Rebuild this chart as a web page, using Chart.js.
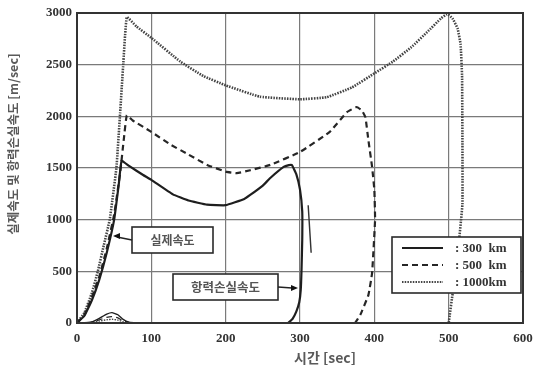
<!DOCTYPE html>
<html>
<head>
<meta charset="utf-8">
<script src="https://cdn.jsdelivr.net/npm/chart.js@4/dist/chart.umd.min.js"></script>
<style>
  html, body { margin: 0; padding: 0; background: #fff; }
  #wrap { width: 541px; height: 369px; }
</style>
</head>
<body>
<div id="wrap"><canvas id="c" width="541" height="369"></canvas></div>
<script>
// Axis ticks
const xTicks = [0, 100, 200, 300, 400, 500, 600];
const yTicks = [0, 500, 1000, 1500, 2000, 2500, 3000];

// Legend entries (altitude)
const seriesNames = ['300  km', '500  km', '1000km'];

// Actual velocity, 300 km
const t300 = [0, 10, 20, 30, 40, 50, 56, 60, 70, 89, 100, 129, 150, 175, 200, 225, 233, 250, 260, 278, 285, 289, 295, 300, 303, 303, 302, 301, 299, 295, 290, 284];
const v300 = [0, 70, 220, 420, 680, 1000, 1330, 1570, 1520, 1432, 1385, 1245, 1185, 1145, 1140, 1200, 1239, 1330, 1403, 1510, 1528, 1530, 1440, 1290, 1080, 800, 500, 320, 200, 110, 40, 0];

// Actual velocity, 500 km
const t500 = [0, 10, 20, 30, 40, 50, 58, 63, 67, 75, 100, 125, 150, 175, 200, 215, 233, 260, 300, 340, 363, 376, 383, 388, 392, 397, 400, 401, 397, 392, 381, 374];
const v500 = [0, 80, 250, 450, 720, 1050, 1450, 1780, 2010, 1960, 1850, 1730, 1630, 1530, 1465, 1450, 1478, 1530, 1655, 1850, 2040, 2090, 2060, 1990, 1770, 1510, 1290, 1000, 485, 270, 77, 0];

// Actual velocity, 1000 km
const t1000 = [0, 10, 20, 28, 36, 44, 53, 58, 62, 67, 80, 100, 139, 170, 200, 246, 300, 336, 370, 401, 425, 450, 471, 490, 498, 505, 512, 516, 518, 518.5, 518.5, 514, 510, 506, 500];
const v1000 = [0, 100, 290, 500, 750, 1000, 1500, 2030, 2480, 2960, 2870, 2760, 2530, 2390, 2300, 2190, 2165, 2185, 2280, 2420, 2530, 2670, 2815, 2950, 2990, 2950, 2850, 2700, 2400, 1800, 1150, 800, 500, 320, 0];

// Drag loss velocity (shared time base)
const tDrag = [0, 10, 20, 30, 40, 47, 55, 62, 70, 80, 100];
const d300  = [0, 2, 10, 45, 85, 100, 80, 35, 8, 2, 0];
const d500  = [0, 2, 8, 30, 55, 62, 50, 22, 5, 1, 0];
const d1000 = [0, 1, 5, 18, 32, 36, 28, 12, 3, 1, 0];

// Small slanted marker across the 300 km descent
const crossMark = [[311, 1140], [315, 680]];

const pts = (ts, vs) => ts.map((t, i) => ({ x: t, y: vs[i] }));

const styles = [
  { borderColor: '#1e1e1e', borderWidth: 2.2, borderDash: [] },
  { borderColor: '#262626', borderWidth: 2.2, borderDash: [6, 4] },
  { borderColor: '#444', borderWidth: 2.6, borderDash: [1.5, 1.2] }
];

const mk = (data, s, w) => ({
  data,
  borderColor: s.borderColor,
  borderWidth: w || s.borderWidth,
  borderDash: s.borderDash,
  pointRadius: 0,
  tension: 0.1,
  fill: false
});

const datasets = [
  mk(pts(t300, v300), styles[0]),
  mk(pts(t500, v500), styles[1]),
  mk(pts(t1000, v1000), styles[2]),
  mk(pts(tDrag, d300), styles[0], 1.4),
  mk(pts(tDrag, d500), styles[1], 1.2),
  mk(pts(tDrag, d1000), styles[2], 1.4)
];

const tickFont = { family: "'Liberation Serif', serif", size: 13, weight: 'bold' };

function arrowHead(ctx, x, y, dir) {
  ctx.beginPath();
  ctx.moveTo(x, y);
  ctx.lineTo(x - dir * 7, y - 3);
  ctx.lineTo(x - dir * 7, y + 3);
  ctx.closePath();
  ctx.fill();
}

const decor = {
  id: 'decor',
  afterDatasetsDraw(chart) {
    const { ctx, scales: { x, y } } = chart;
    ctx.save();

    // slanted marker
    ctx.strokeStyle = '#333';
    ctx.lineWidth = 1.4;
    ctx.beginPath();
    ctx.moveTo(x.getPixelForValue(crossMark[0][0]), y.getPixelForValue(crossMark[0][1]));
    ctx.lineTo(x.getPixelForValue(crossMark[1][0]), y.getPixelForValue(crossMark[1][1]));
    ctx.stroke();

    // labelled call-out boxes
    const korFont = "'Noto Sans CJK KR', sans-serif";
    ctx.fillStyle = '#fff';
    ctx.strokeStyle = '#2a2a2a';
    ctx.lineWidth = 1.6;

    // 실제속도
    ctx.fillRect(132, 227, 81, 26);
    ctx.strokeRect(132, 227, 81, 26);
    ctx.fillStyle = '#555';
    ctx.font = "bold 12px " + korFont;
    ctx.textAlign = 'center';
    ctx.textBaseline = 'middle';
    ctx.fillText('실제속도', 172.5, 240.5);
    ctx.strokeStyle = '#222';
    ctx.beginPath();
    ctx.moveTo(132, 240);
    ctx.lineTo(117, 237);
    ctx.stroke();
    ctx.fillStyle = '#111';
    arrowHead(ctx, 113, 236, -1);

    // 항력손실속도
    ctx.fillStyle = '#fff';
    ctx.strokeStyle = '#2a2a2a';
    ctx.fillRect(173, 274, 105, 26);
    ctx.strokeRect(173, 274, 105, 26);
    ctx.fillStyle = '#555';
    ctx.font = "bold 12.5px " + korFont;
    ctx.fillText('항력손실속도', 225.5, 287.5);
    ctx.strokeStyle = '#222';
    ctx.beginPath();
    ctx.moveTo(278, 287);
    ctx.lineTo(292, 288);
    ctx.stroke();
    ctx.fillStyle = '#111';
    arrowHead(ctx, 298, 288, 1);

    // legend
    ctx.fillStyle = '#fff';
    ctx.strokeStyle = '#2a2a2a';
    ctx.lineWidth = 1.6;
    ctx.fillRect(392, 237, 129, 56);
    ctx.strokeRect(392, 237, 129, 56);
    const rows = [248, 265, 282];
    ctx.textAlign = 'left';
    ctx.font = "bold 13px 'Liberation Serif', serif";
    seriesNames.forEach((name, i) => {
      const s = styles[i];
      ctx.strokeStyle = s.borderColor;
      ctx.lineWidth = s.borderWidth * 0.8;
      ctx.setLineDash(s.borderDash);
      ctx.beginPath();
      ctx.moveTo(402, rows[i]);
      ctx.lineTo(443, rows[i]);
      ctx.stroke();
      ctx.setLineDash([]);
      ctx.fillStyle = '#333';
      ctx.fillText(': ' + name, 455, rows[i] + 1);
    });
    ctx.restore();
  },
  afterDraw(chart) {
    const { ctx, chartArea: a } = chart;
    ctx.save();
    ctx.strokeStyle = '#333';
    ctx.lineWidth = 2;
    ctx.strokeRect(a.left, a.top, a.right - a.left, a.bottom - a.top);

    // axis titles
    ctx.fillStyle = '#5a5a5a';
    ctx.textAlign = 'center';
    ctx.textBaseline = 'middle';
    ctx.font = "bold 14px 'Noto Sans CJK KR', sans-serif";
    ctx.fillText('시간 [sec]', 325, 358);
    ctx.translate(13, 144);
    ctx.rotate(-Math.PI / 2);
    ctx.font = "bold 12.5px 'Noto Sans CJK KR', sans-serif";
    ctx.fillText('실제속도 및 항력손실속도 [m/sec]', 0, 0);
    ctx.restore();
  }
};

new Chart(document.getElementById('c'), {
  type: 'line',
  data: { datasets },
  options: {
    responsive: false,
    animation: false,
    devicePixelRatio: 1,
    layout: { padding: { top: 13, right: 18, left: 0, bottom: 0 } },
    plugins: { legend: { display: false }, tooltip: { enabled: false } },
    scales: {
      x: {
        type: 'linear',
        min: xTicks[0],
        max: xTicks[xTicks.length - 1],
        afterBuildTicks: s => { s.ticks = xTicks.map(v => ({ value: v })); },
        afterFit: s => { s.height = 46; },
        ticks: { font: tickFont, color: '#333', padding: 8, maxRotation: 0, callback: v => String(v) },
        grid: { color: '#7a7a7a', lineWidth: 1.2, drawTicks: false },
        border: { display: false }
      },
      y: {
        type: 'linear',
        min: yTicks[0],
        max: yTicks[yTicks.length - 1],
        afterBuildTicks: s => { s.ticks = yTicks.map(v => ({ value: v })); },
        afterFit: s => { s.width = 77; },
        ticks: { font: tickFont, color: '#333', padding: 5, callback: v => String(v) },
        grid: { color: '#7a7a7a', lineWidth: 1.2, drawTicks: false },
        border: { display: false }
      }
    }
  },
  plugins: [decor]
});
</script>
</body>
</html>
